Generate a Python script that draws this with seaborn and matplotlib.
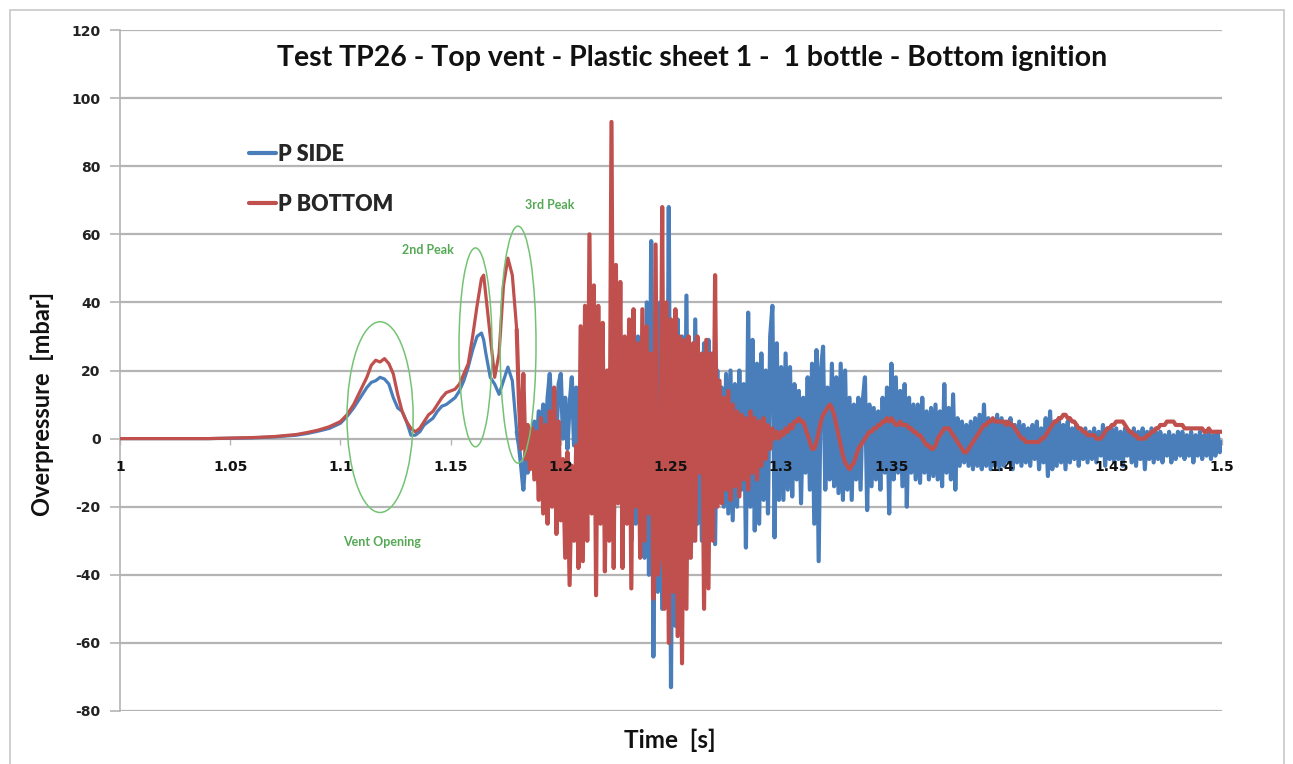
import numpy as np
import pandas as pd
import matplotlib
matplotlib.use("Agg")
import matplotlib.pyplot as plt
from matplotlib.patches import Ellipse, Rectangle
from matplotlib.transforms import offset_copy
import seaborn as sns

# ---------------- data ----------------
title = "Test TP26 - Top vent - Plastic sheet 1 -  1 bottle - Bottom ignition"
x_ticks = [1.0, 1.05, 1.1, 1.15, 1.2, 1.25, 1.3, 1.35, 1.4, 1.45, 1.5]
x_tick_labels = ["1", "1.05", "1.1", "1.15", "1.2", "1.25", "1.3", "1.35", "1.4", "1.45", "1.5"]
y_ticks = [-80, -60, -40, -20, 0, 20, 40, 60, 80, 100, 120]

# smooth part (before the strong oscillations)
t_smooth = [1.000, 1.020, 1.040, 1.060, 1.070, 1.080, 1.085, 1.090, 1.095, 1.100,
            1.103, 1.106, 1.109, 1.112, 1.114, 1.116, 1.118, 1.120, 1.122, 1.124,
            1.126, 1.128, 1.130, 1.132, 1.134, 1.136, 1.138, 1.140, 1.142, 1.144,
            1.146, 1.148, 1.150, 1.152, 1.154, 1.156, 1.158, 1.160, 1.162, 1.164,
            1.165, 1.166, 1.168, 1.170, 1.172, 1.174, 1.176, 1.178, 1.180]
bottom_smooth = [0, 0, 0, 0.3, 0.6, 1.2, 1.8, 2.5, 3.5, 5,
                 7, 10, 14, 18, 21.5, 23, 22.5, 23.5, 22, 19,
                 13, 8, 5, 3, 2, 3, 5, 7, 8, 10,
                 12, 13.5, 14, 14.5, 16, 19, 22, 30, 39, 47,
                 48, 42, 30, 18, 25, 45, 53, 48, 32]
side_smooth = [0, 0, 0, 0.2, 0.5, 1, 1.5, 2.2, 3, 4.5,
               6.5, 9, 12, 15, 16.5, 17, 18, 17.5, 16, 12,
               9, 8, 5, 1, 1, 2, 4, 5, 6, 8,
               9.5, 10, 11, 12, 14, 17, 21, 26, 30, 31,
               29, 25, 18, 16, 13, 17, 21, 17, 2]

# oscillating part, one sample per millisecond from 1.181 s to 1.500 s
bottom_osc = [
    11, -3, 19, -6, 4, -9, 3, -12, 2, -18,
    6, -22, 4, -25, 8, -20, 15, -28, 5, -24,
    -6, -35, -4, -43, -8, -30, -2, -38, 33, -36,
    39, -30, 60, -22, 45, -46, 39, -25, 34, -39,
    20, -30, 93, -38, 51, -19, 46, -38, 30, -25,
    35, -44, 38, -20, 28, -35, 38, -30, 33, -22,
    25, -47, 57, -40, -35, 68, -50, 40, -60, 35,
    -45, 38, -58, 30, -66, 29, -50, 30, -35, 28,
    -30, 30, -10, 25, -50, 29, -44, 25, -30, 48,
    -20, 17, -19, 12, -15, 14, -18, 10, -14, 8,
    -17, 7, -12, 6, -15, 8, -10, 6, -12, 5,
    -8, 6, -6, 4, -3, 3, 0, 2, 0, 2,
    1, 3, 2, 4, 3, 5, 5, 6, 5, 5,
    3, 1, -1, -3, -3, -1, 2, 5, 7, 8,
    9, 10, 9, 7, 4, 1, -2, -5, -7, -8,
    -9, -8, -7, -5, -3, -2, -1, 0, 1, 2,
    2, 3, 3, 4, 4, 5, 5, 6, 5, 6,
    5, 4, 4, 5, 4, 4, 4, 3, 3, 2,
    2, 1, 1, 0, -1, -2, -2, -3, -3, -2,
    0, 1, 2, 3, 3, 3, 2, 1, 0, -1,
    -2, -3, -4, -4, -3, -2, -1, 0, 1, 2,
    3, 4, 4, 5, 5, 6, 5, 5, 5, 5,
    5, 4, 5, 4, 4, 3, 2, 1, 0, 0,
    -1, -1, -1, -1, -1, -1, -1, 0, 0, 1,
    2, 3, 4, 5, 5, 6, 6, 7, 7, 6,
    6, 5, 5, 4, 3, 3, 2, 2, 1, 1,
    1, 1, 0, 0, 0, 1, 2, 3, 3, 4,
    4, 5, 5, 5, 5, 4, 3, 2, 2, 1,
    1, 0, 0, 0, 0, 1, 1, 2, 2, 3,
    3, 4, 4, 4, 5, 5, 5, 5, 4, 4,
    4, 4, 3, 3, 3, 3, 3, 3, 3, 3,
    3, 2, 2, 3, 2, 2, 2, 2, 2, 2,
]
side_osc = [
    -2, -8, -15, -5, -10, 2, -6, 5, -3, 8,
    -2, 10, -3, 12, 19, 2, 14, 0, 16, 19,
    0, 12, -3, 10, 18, -2, 15, -10, 8, -15,
    12, -20, 20, -15, 25, -22, 18, -18, 22, -25,
    15, -20, 25, -28, 20, -15, 18, -25, 22, -20,
    28, -30, 20, -25, 30, -28, 25, -35, 40, -40,
    58, -64, 30, -45, 40, -50, 35, -40, 68, -73,
    30, -55, 35, -45, 30, -40, 42, -35, 25, -30,
    35, -25, 22, -30, 28, -20, 29, -28, 25, -31,
    20, -18, 15, -20, 19, -22, 20, -24, 16, -20,
    20, -15, 16, -32, 37, -20, 29, -27, 22, -25,
    25, -18, 20, -22, 30, 39, -29, 28, -18, 21,
    -18, 25, -15, 21, -17, 16, -12, 14, -19, 12,
    -10, 18, -15, 22, -25, 26, -36, 20, 27, -15,
    15, -12, 22, -14, 18, -16, 22, -18, 20, -15,
    12, -18, 10, -12, 12, -15, 11, 18, -21, 10,
    -14, 9, -12, 8, -15, 12, -10, 15, -22, 22,
    -12, 18, -10, 14, -14, 16, -20, 12, -10, 10,
    -12, 10, -13, 12, -10, 8, -12, 9, -11, 10,
    -12, 8, -14, 16, -10, 9, -12, 13, -15, 6,
    -8, 5, -7, 4, -8, 5, -9, 6, -8, 7,
    -9, 10, -8, 6, -9, 5, -8, 7, -9, 6,
    -8, 5, -7, 6, -9, 4, -7, 5, -8, 4,
    -7, 3, -8, 4, -6, 5, -9, 3, -7, 6,
    -11, 8, -9, 5, -8, 6, -7, 4, -9, 5,
    -7, 3, -6, 4, -8, 2, -6, 3, -7, 2,
    -6, 3, -7, 2, -5, 4, -8, 3, -6, 3,
    -7, 3, -6, 2, -8, 3, -5, 2, -7, 3,
    -8, 2, -6, 3, -9, 2, -6, 3, -7, 2,
    -6, 2, -7, 1, -5, 2, -7, 1, -6, 2,
    -5, 2, -6, 1, -5, 2, -7, 1, -5, 2,
    -6, 1, -5, 2, -6, 1, -5, 2, -4, -1,
]

# annotations (data coordinates)
ellipse_centers = [(1.118, 6.3), (1.1613, 26.8), (1.1806, 27.6)]
ellipse_sizes = [(0.030, 56.0), (0.015, 58.4), (0.0163, 69.6)]
note_texts = ["Vent Opening", "2nd Peak", "3rd Peak"]
note_pos = [(1.119, -30.5), (1.1397, 55.5), (1.195, 68.5)]
legend_labels = ["P SIDE", "P BOTTOM"]

# ---------------- assemble ----------------
t_osc = np.round(1.181 + 0.001 * np.arange(len(bottom_osc)), 3)
smooth = pd.DataFrame({"time": t_smooth, "P SIDE": side_smooth, "P BOTTOM": bottom_smooth})
osc = pd.DataFrame({"time": np.concatenate([[t_smooth[-1]], t_osc]),
                    "P SIDE": [side_smooth[-1]] + side_osc,
                    "P BOTTOM": [bottom_smooth[-1]] + bottom_osc})

BLUE = "#4a7ebb"
RED = "#c0504d"
GREEN = "#74c374"
GRID = "#b4b4b4"

sns.set_theme(style="white")
plt.rcParams["font.family"] = ["Lato", "DejaVu Sans"]

W, H = 1293, 764
fig = plt.figure(figsize=(W / 100, H / 100), dpi=100)
ax = fig.add_axes([120 / W, 1 - 711 / H, (1222 - 120) / W, (711 - 30) / H])

sns.lineplot(data=smooth, x="time", y="P SIDE", ax=ax, color=BLUE, lw=2.3,
             sort=False, estimator=None, zorder=3)
sns.lineplot(data=osc, x="time", y="P SIDE", ax=ax, color=BLUE, lw=3.0,
             sort=False, estimator=None, zorder=3)
sns.lineplot(data=smooth, x="time", y="P BOTTOM", ax=ax, color=RED, lw=2.3,
             sort=False, estimator=None, zorder=4)
sns.lineplot(data=osc, x="time", y="P BOTTOM", ax=ax, color=RED, lw=3.0,
             sort=False, estimator=None, zorder=4)

ax.set_xlim(1.0, 1.5)
ax.set_ylim(-80, 120)
ax.set_yticks(y_ticks)
ax.set_yticklabels([str(v) for v in y_ticks])
ax.set_xticks(x_ticks)
ax.set_xticklabels([])
ax.set_xlabel("")
ax.set_ylabel("")

ax.yaxis.grid(True, color=GRID, lw=1.6)
ax.xaxis.grid(False)
ax.set_axisbelow(True)
for s in ["top", "right"]:
    ax.spines[s].set_visible(False)
ax.spines["left"].set_color(GRID)
ax.spines["left"].set_linewidth(1.2)
ax.spines["bottom"].set_position(("data", 0))
ax.spines["bottom"].set_color(GRID)
ax.spines["bottom"].set_linewidth(1.2)

ax.tick_params(axis="y", which="both", left=True, length=7, width=1.2, color=GRID,
               pad=7, labelsize=10, labelcolor="#222222")
ax.tick_params(axis="x", which="both", bottom=True, length=4, width=1, color=GRID)
for lab in ax.get_yticklabels():
    lab.set_fontweight("bold")
    lab.set_family(["DejaVu Sans"])

# x tick labels drawn above the curves, just under the zero line
lab_trans = offset_copy(ax.transData, fig=fig, x=0, y=-28, units="dots")
for xv, lab in zip(x_ticks, x_tick_labels):
    ax.text(xv, 0, lab, transform=lab_trans, ha="center", va="center",
            fontsize=10, fontweight="bold", family=["DejaVu Sans"],
            color="#111111", zorder=10, clip_on=False)

# ellipses and notes
for (cx, cy), (w, h) in zip(ellipse_centers, ellipse_sizes):
    ax.add_patch(Ellipse((cx, cy), w, h, fill=False, ec=GREEN, lw=1.1, zorder=6))
for txt, (x, y) in zip(note_texts, note_pos):
    ax.text(x, y, txt, color="#55a855", fontsize=9, fontweight="bold",
            ha="center", va="center", zorder=7)

# legend (handles are the smooth lines of each series)
handles = [ax.lines[0], ax.lines[2]]
leg = ax.legend(handles, legend_labels, loc="upper left",
                bbox_to_anchor=(238 / W, 1 - 133 / H),
                bbox_transform=fig.transFigure, frameon=False, borderpad=0,
                handlelength=1.25, handletextpad=0.12, labelspacing=1.35,
                prop={"family": ["Lato", "DejaVu Sans"], "weight": "heavy", "size": 15.5})
for line in leg.get_lines():
    line.set_linewidth(3)

# titles
fig.text(692 / W, 1 - 58 / H, title, ha="center", va="center",
         fontsize=20.5, fontweight="bold", color="#111111")
fig.text(42 / W, 1 - 404 / H, "Overpressure  [mbar]", rotation=90,
         ha="center", va="center", fontsize=17, fontweight="bold", color="#111111")
fig.text(670 / W, 1 - 740 / H, "Time  [s]", ha="center", va="center",
         fontsize=17.5, fontweight="bold", color="#111111")

# outer frame of the chart area
fig.patches.append(Rectangle((10 / W, -0.01), (1284 - 10) / W, 1 - 10 / H + 0.01,
                             transform=fig.transFigure, fill=False,
                             ec="#c8c8c8", lw=1.2))

fig.savefig("out.png", dpi=100)
